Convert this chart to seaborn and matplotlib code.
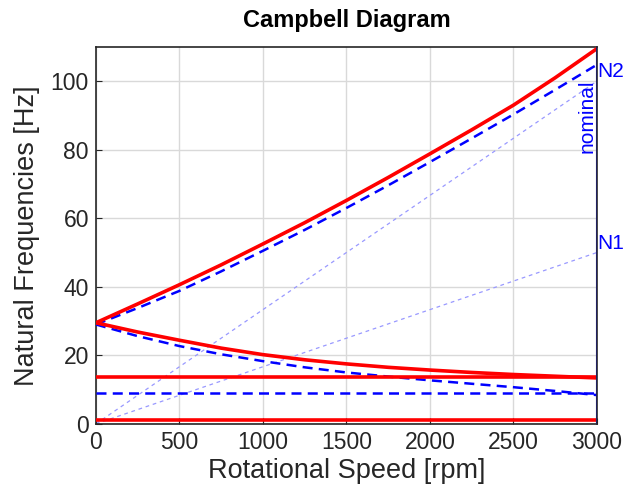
import numpy as np
import pandas as pd
import seaborn as sns
import matplotlib.pyplot as plt

# rotational speed samples [rpm]
rpm = [0, 250, 500, 750, 1000, 1250, 1500, 1750, 2000, 2250, 2500, 2750, 3000]

# natural frequencies [Hz]
fw_actual = [29.5, 35.0, 40.6, 46.4, 52.5, 58.7, 65.2, 71.9, 78.8, 85.8, 93.0, 101.0, 109.5]
fw_nominal = [29.0, 33.8, 38.8, 44.5, 50.5, 56.6, 63.0, 69.6, 76.4, 83.3, 90.3, 97.5, 104.8]
bw_actual = [29.5, 26.8, 24.4, 22.1, 20.2, 18.7, 17.5, 16.5, 15.7, 15.0, 14.4, 13.9, 13.4]
bw_nominal = [29.0, 25.6, 22.7, 20.3, 18.3, 16.5, 15.0, 13.8, 12.7, 11.7, 10.7, 9.6, 8.4]
flat_actual_hi = [13.8] * len(rpm)
flat_nominal = [9.0] * len(rpm)
flat_actual_lo = [1.2] * len(rpm)

# excitation orders
orders = ["N1", "N2"]
order_mult = [1, 2]
nominal_speed = 3000

df = pd.DataFrame({"rpm": rpm})

plt.rcParams['font.family'] = ['Liberation Sans', 'DejaVu Sans']
fig = plt.figure(figsize=(6.27, 4.94), dpi=100)
ax = fig.add_axes([0.153, 0.142, 0.799, 0.763])

# order lines
for name, m in zip(orders, order_mult):
    ax.plot([0, nominal_speed], [0, m * nominal_speed / 60], color="#9999ff",
            lw=0.9, ls=(0, (3, 3)), zorder=2)
    ax.text(nominal_speed + 2, m * nominal_speed / 60, name, color="blue",
            fontsize=15, ha="left", va="bottom", clip_on=False)

red = dict(color="red", lw=2.6, zorder=4)
blue = dict(color="blue", lw=1.8, ls=(0, (4, 2.5)), zorder=3)
sns.lineplot(x=df["rpm"], y=fw_nominal, ax=ax, **blue)
sns.lineplot(x=df["rpm"], y=bw_nominal, ax=ax, **blue)
sns.lineplot(x=df["rpm"], y=flat_nominal, ax=ax, **blue)
sns.lineplot(x=df["rpm"], y=fw_actual, ax=ax, **red)
sns.lineplot(x=df["rpm"], y=bw_actual, ax=ax, **red)
sns.lineplot(x=df["rpm"], y=flat_actual_hi, ax=ax, **red)
sns.lineplot(x=df["rpm"], y=flat_actual_lo, ax=ax, **red)

ax.axvline(nominal_speed, color="#202060", lw=1.5, zorder=5)
ax.text(nominal_speed, 100.5, "nominal", color="blue", fontsize=15,
        rotation=90, ha="right", va="top")

ax.set_xlim(0, 3000)
ax.set_ylim(0, 110)
ax.set_xticks(range(0, 3001, 500))
ax.set_yticks(range(0, 101, 20))
ax.grid(True, color="#d9d9d9", lw=1.0, zorder=0)
ax.set_axisbelow(True)
ax.tick_params(direction="in", labelsize=16.5, colors="#262626", length=4, pad=5)
for s in ax.spines.values():
    s.set_color("#262626")
    s.set_linewidth(1.2)
ax.set_xlabel("Rotational Speed [rpm]", fontsize=19.5, color="#262626", labelpad=3)
ax.set_ylabel("Natural Frequencies [Hz]", fontsize=19.5, color="#262626", labelpad=8)
ax.set_title("Campbell Diagram", fontsize=17, fontweight="bold", pad=14)

fig.savefig("out.png", dpi=100)
